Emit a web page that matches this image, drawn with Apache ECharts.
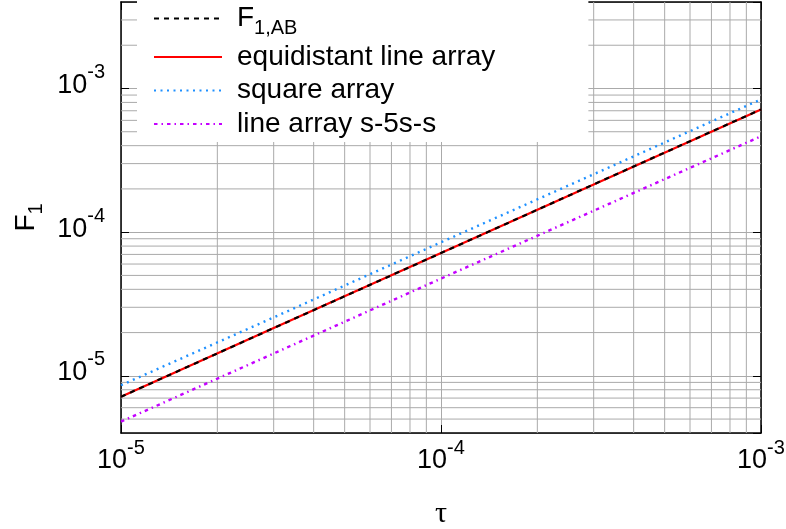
<!DOCTYPE html>
<html>
<head>
<meta charset="utf-8">
<script src="https://cdn.jsdelivr.net/npm/echarts@6/dist/echarts.min.js"></script>
<style>
  html, body { margin: 0; padding: 0; background: #fff; }
  #chart { width: 786px; height: 529px; }
</style>
</head>
<body>
<div id="chart"></div>
<script>
// F1 frente a tau, escala log-log con rejilla menor en 2..9 de cada década.

const tau       = [1e-5, 3e-5, 1e-4, 3e-4, 1e-3];
const f1AB      = [7.15e-6, 2.15e-5, 7.15e-5, 2.15e-4, 7.15e-4];
const equiLine  = [7.15e-6, 2.15e-5, 7.15e-5, 2.15e-4, 7.15e-4];
const squareArr = [8.6e-6, 2.55e-5, 8.5e-5, 2.53e-4, 8.4e-4];
const lineS5S   = [4.8e-6, 1.43e-5, 4.75e-5, 1.41e-4, 4.65e-4];

// líneas menores de la rejilla
const xMinor = [2e-5, 3e-5, 4e-5, 5e-5, 6e-5, 7e-5, 8e-5, 9e-5,
                2e-4, 3e-4, 4e-4, 5e-4, 6e-4, 7e-4, 8e-4, 9e-4];
const yMinor = [5e-6, 6e-6, 7e-6, 8e-6, 9e-6,
                2e-5, 3e-5, 4e-5, 5e-5, 6e-5, 7e-5, 8e-5, 9e-5,
                2e-4, 3e-4, 4e-4, 5e-4, 6e-4, 7e-4, 8e-4, 9e-4,
                2e-3, 3e-3];

const X_MIN = 1e-5, X_MAX = 1e-3;
const Y_MIN = 4e-6, Y_MAX = 4e-3;

const FONT = '"Liberation Sans", Arial, sans-serif';
const GRID_COLOR = '#aaaaaa';

const pow10Label = v => `{b|10}{s|-${-Math.round(Math.log10(v))}}`;
const labelRich = {
  b: { fontSize: 27, fontFamily: FONT, color: '#000', lineHeight: 46 },
  s: { fontSize: 20, fontFamily: FONT, color: '#000', verticalAlign: 'top' },
};

const pair = arr => tau.map((t, i) => [t, arr[i]]);

// segmentos de rejilla separados por '-' para cortar la línea
const vSegs = xMinor.flatMap(v => [[v, Y_MIN], [v, Y_MAX], ['-', '-']]);
const hSegs = yMinor.flatMap(v => [[X_MIN, v], [X_MAX, v], ['-', '-']]);

const baseAxis = {
  type: 'log',
  logBase: 10,
  axisLine: { show: true, lineStyle: { color: '#000', width: 1.5 } },
  axisTick: { show: true, inside: true, length: 8, lineStyle: { color: '#000', width: 1 } },
  splitLine: { show: true, lineStyle: { color: GRID_COLOR, width: 1 } },
  minorTick: { show: false },
};

const gridSeries = (name, data) => ({
  name,
  type: 'line',
  z: 1,
  silent: true,
  symbol: 'none',
  connectNulls: false,
  lineStyle: { color: GRID_COLOR, width: 1 },
  emphasis: { disabled: true },
  data,
});

const chart = echarts.init(document.getElementById('chart'), null, { renderer: 'canvas' });

chart.setOption({
  backgroundColor: '#fff',
  animation: false,
  grid: { left: 121, right: 25, top: 2, bottom: 96, outerBoundsMode: 'none', containLabel: false },
  legend: {
    orient: 'vertical',
    left: 137,
    top: 0,
    z: 10,
    padding: [3.5, 93, 3, 16],
    backgroundColor: '#fff',
    itemWidth: 68,
    itemHeight: 14,
    itemGap: 3.5,
    itemStyle: { opacity: 0 },
    data: ['F1AB', 'equidistant line array', 'square array', 'line array s-5s-s'],
    formatter: name => name === 'F1AB' ? '{m|F}{sub|1,AB}' : name,
    textStyle: {
      fontSize: 28,
      fontFamily: FONT,
      color: '#000',
      lineHeight: 30,
      padding: [0, 0, 0, 10],
      rich: {
        m:   { fontSize: 28, fontFamily: FONT, color: '#000', lineHeight: 30 },
        sub: { fontSize: 20, fontFamily: FONT, color: '#000', verticalAlign: 'top', padding: [15, 0, 0, 0] },
      },
    },
  },
  xAxis: [
    {
      ...baseAxis,
      min: X_MIN,
      max: X_MAX,
      splitNumber: 2,
      name: 'τ',
      nameLocation: 'middle',
      nameGap: 66,
      nameTextStyle: { fontSize: 30, fontFamily: '"Liberation Serif", "DejaVu Serif", serif', color: '#000' },
      axisLabel: {
        margin: 5,
        formatter: pow10Label,
        rich: labelRich,
        showMinLabel: true,
        showMaxLabel: true,
      },
    },
    {
      ...baseAxis,
      position: 'top',
      min: X_MIN,
      max: X_MAX,
      splitNumber: 2,
      axisLabel: { show: false },
      splitLine: { show: false },
    },
  ],
  yAxis: [
    {
      ...baseAxis,
      min: Y_MIN,
      max: Y_MAX,
      splitNumber: 3,
      name: '{m|F}{sub|1}',
      nameLocation: 'middle',
      nameGap: 78,
      nameTextStyle: {
        fontSize: 28,
        fontFamily: FONT,
        color: '#000',
        rich: {
          m:   { fontSize: 28, fontFamily: FONT, color: '#000', lineHeight: 30 },
          sub: { fontSize: 20, fontFamily: FONT, color: '#000', verticalAlign: 'top', padding: [15, 0, 0, 0], lineHeight: 30 },
        },
      },
      axisLabel: {
        margin: 16,
        formatter: pow10Label,
        rich: labelRich,
        padding: [0, 0, 6, 0],
        showMinLabel: false,
        showMaxLabel: false,
      },
    },
    {
      ...baseAxis,
      position: 'right',
      min: Y_MIN,
      max: Y_MAX,
      splitNumber: 3,
      axisLabel: { show: false },
      splitLine: { show: false },
    },
  ],
  series: [
    gridSeries('minor-x', vSegs),
    gridSeries('minor-y', hSegs),
    {
      name: 'equidistant line array',
      type: 'line',
      z: 3,
      symbol: 'none',
      lineStyle: { color: '#ff0000', width: 2.2, type: 'solid' },
      itemStyle: { color: '#ff0000' },
      data: pair(equiLine),
    },
    {
      name: 'F1AB',
      type: 'line',
      z: 4,
      symbol: 'none',
      lineStyle: { color: '#000000', width: 2.2, type: [5, 5] },
      itemStyle: { color: '#000000' },
      data: pair(f1AB),
    },
    {
      name: 'square array',
      type: 'line',
      z: 3,
      symbol: 'none',
      lineStyle: { color: '#1e90ff', width: 2.4, type: [2, 4.5] },
      itemStyle: { color: '#1e90ff' },
      data: pair(squareArr),
    },
    {
      name: 'line array s-5s-s',
      type: 'line',
      z: 3,
      symbol: 'none',
      lineStyle: { color: '#c400ff', width: 2.4, type: [3.5, 4, 1.5, 4] },
      itemStyle: { color: '#c400ff' },
      data: pair(lineS5S),
    },
  ],
});
</script>
</body>
</html>
